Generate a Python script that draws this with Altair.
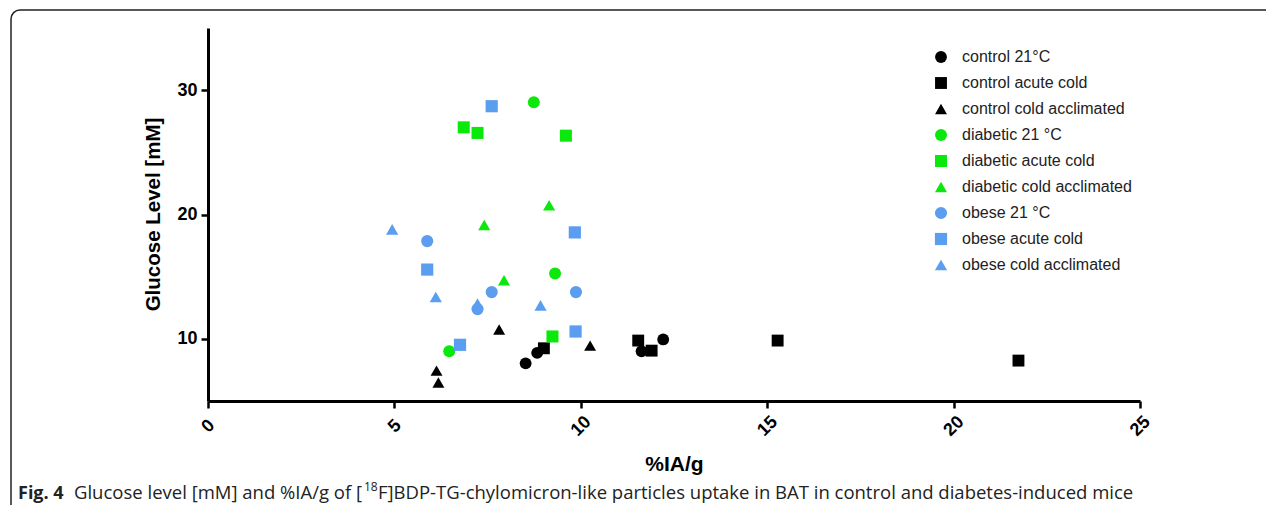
import altair as alt
import pandas as pd

groups = ["control 21°C", "control acute cold", "control cold acclimated",
          "diabetic 21 °C", "diabetic acute cold", "diabetic cold acclimated",
          "obese 21 °C", "obese acute cold", "obese cold acclimated"]
colors = ["#000000", "#000000", "#000000",
          "#0be80b", "#0be80b", "#0be80b",
          "#5b9ef0", "#5b9ef0", "#5b9ef0"]
shapes = ["circle", "square", "triangle-up"] * 3
sizes = [140, 150, 180] * 3

ctrl_21_x = [8.52, 8.83, 11.63, 12.21]
ctrl_21_y = [8.03, 8.87, 9.00, 9.95]
ctrl_acute_x = [9.01, 11.54, 11.90, 15.28, 21.74]
ctrl_acute_y = [9.24, 9.86, 9.05, 9.86, 8.25]
ctrl_accl_x = [6.13, 6.18, 7.81, 10.25]
ctrl_accl_y = [7.44, 6.49, 10.75, 9.46]
diab_21_x = [6.47, 8.74, 9.31]
diab_21_y = [9.00, 29.03, 15.25]
diab_acute_x = [6.86, 7.23, 9.60, 9.24]
diab_acute_y = [27.01, 26.56, 26.34, 10.19]
diab_accl_x = [7.41, 7.94, 9.15]
diab_accl_y = [19.15, 14.71, 20.74]
obese_21_x = [5.88, 7.61, 7.23, 9.87]
obese_21_y = [17.86, 13.76, 12.39, 13.76]
obese_acute_x = [5.88, 6.76, 7.61, 9.84, 9.86]
obese_acute_y = [15.57, 9.52, 28.71, 18.56, 10.59]
obese_accl_x = [4.94, 6.11, 7.23, 8.92]
obese_accl_y = [18.80, 13.36, 12.83, 12.69]

x_ticks = [0, 5, 10, 15, 20, 25]
y_ticks = [10, 20, 30]

series = [
    (ctrl_21_x, ctrl_21_y), (ctrl_acute_x, ctrl_acute_y), (ctrl_accl_x, ctrl_accl_y),
    (diab_21_x, diab_21_y), (diab_acute_x, diab_acute_y), (diab_accl_x, diab_accl_y),
    (obese_21_x, obese_21_y), (obese_acute_x, obese_acute_y), (obese_accl_x, obese_accl_y),
]
rows = []
for g, (xs, ys) in zip(groups, series):
    for xv, yv in zip(xs, ys):
        rows.append({"group": g, "ia": xv, "glucose": yv})
df = pd.DataFrame(rows)

FONT = "Liberation Sans"

points = alt.Chart(df).mark_point(filled=True, opacity=1, strokeWidth=0).encode(
    x=alt.X("ia:Q", scale=alt.Scale(domain=[0, 25], nice=False, zero=False),
            axis=alt.Axis(title="%IA/g", values=x_ticks, labelAngle=315, labelAlign="center",
                          labelBaseline="middle", labelPadding=18, labelFlush=False,
                          labelFont=FONT, labelFontSize=18, labelFontWeight="bold",
                          labelColor="#000", tickSize=7, tickWidth=2.5, tickColor="#000",
                          domainWidth=3, domainColor="#000", grid=False,
                          titleFont=FONT, titleFontSize=21, titleFontWeight="bold",
                          titleColor="#000", titleY=69, titleBaseline="alphabetic")),
    y=alt.Y("glucose:Q", scale=alt.Scale(domain=[5, 35], nice=False, zero=False),
            axis=alt.Axis(title="Glucose Level [mM]", values=y_ticks, labelPadding=4,
                          labelFont=FONT, labelFontSize=18, labelFontWeight="bold",
                          labelColor="#000", tickSize=7, tickWidth=2.5, tickColor="#000",
                          domainWidth=3, domainColor="#000", grid=False,
                          titleFont=FONT, titleFontSize=20.5, titleFontWeight="bold",
                          titleColor="#000", titleAngle=270, titleX=-49, titleY=186,
                          titleAlign="center", titleBaseline="alphabetic")),
    color=alt.Color("group:N", scale=alt.Scale(domain=groups, range=colors),
                    legend=alt.Legend(title=None, orient="none", legendX=725, legendY=21,
                                      symbolSize=70, labelFont=FONT, labelFontSize=16,
                                      labelColor="#222", rowPadding=10, labelOffset=13,
                                      labelLimit=400, padding=0, symbolStrokeWidth=0)),
    shape=alt.Shape("group:N", scale=alt.Scale(domain=groups, range=shapes)),
    size=alt.Size("group:N", scale=alt.Scale(domain=groups, range=sizes), legend=None),
)

border = alt.Chart(alt.Data(values=[{}])).mark_rect(
    fillOpacity=0, stroke="#222", strokeWidth=1.5, cornerRadius=9
).encode(x=alt.value(-197), x2=alt.value(1300), y=alt.value(-18), y2=alt.value(500))

cap_font = "Open Sans"
cap1 = alt.Chart(alt.Data(values=[{}])).mark_text(
    text="Fig. 4", font=cap_font, fontSize=18, fontWeight="bold", align="left",
    baseline="alphabetic", color="#222"
).encode(x=alt.value(-190), y=alt.value(471))
cap2 = alt.Chart(alt.Data(values=[{}])).mark_text(
    text="Glucose level [mM] and %IA/g of [", font=cap_font, fontSize=18.5, align="left",
    baseline="alphabetic", color="#222"
).encode(x=alt.value(-134), y=alt.value(471))
cap3 = alt.Chart(alt.Data(values=[{}])).mark_text(
    text="18", font=cap_font, fontSize=12, align="left",
    baseline="alphabetic", color="#222"
).encode(x=alt.value(156), y=alt.value(463))
cap4 = alt.Chart(alt.Data(values=[{}])).mark_text(
    text="F]BDP-TG-chylomicron-like particles uptake in BAT in control and diabetes-induced mice",
    font=cap_font, fontSize=18.5, align="left", baseline="alphabetic", color="#222"
).encode(x=alt.value(170), y=alt.value(471))

chart = alt.layer(border, points, cap1, cap2, cap3, cap4).properties(
    width=932, height=373,
    autosize=alt.AutoSizeParams(type="none"),
    padding={"left": 200, "top": 20, "right": 126, "bottom": 104},
).configure_view(stroke=None)

chart.save("out.html", embed_options={"renderer": "svg", "actions": False})
